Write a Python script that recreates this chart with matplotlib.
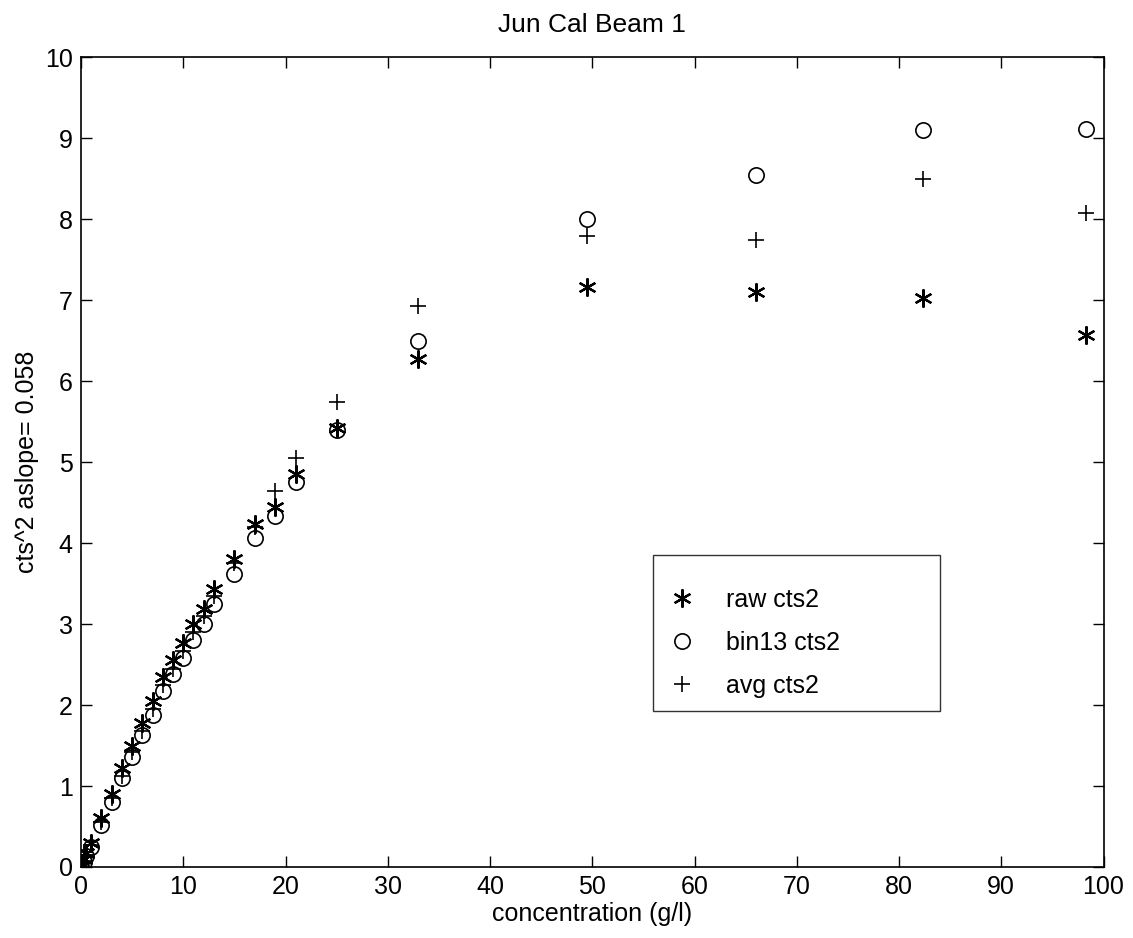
import numpy as np
import matplotlib
matplotlib.use('Agg')
from matplotlib import pyplot as plt

plt.rcParams['font.family'] = ['Liberation Sans', 'DejaVu Sans']

conc = [0, 0.25, 0.5, 1, 2, 3, 4, 5, 6, 7, 8, 9, 10, 11, 12, 13,
        15, 17, 19, 21, 25, 33, 49.5, 66, 82.3, 98.3]
raw_cts2 = [0.0, 0.1, 0.17, 0.3, 0.6, 0.9, 1.22, 1.5, 1.78, 2.05, 2.35, 2.56, 2.77, 3.0,
            3.19, 3.43, 3.8, 4.24, 4.45, 4.86, 5.42, 6.28, 7.17, 7.1, 7.03, 6.57]
bin13_cts2 = [0.0, 0.06, 0.14, 0.25, 0.52, 0.8, 1.1, 1.36, 1.63, 1.88, 2.18, 2.38, 2.58, 2.81,
              3.0, 3.25, 3.62, 4.07, 4.33, 4.75, 5.40, 6.5, 8.0, 8.55, 9.1, 9.12]
avg_cts2 = [0.0, 0.08, 0.15, 0.27, 0.55, 0.85, 1.13, 1.42, 1.68, 1.95, 2.25, 2.45, 2.67, 2.9,
            3.1, 3.35, 3.75, 4.2, 4.64, 5.05, 5.75, 6.93, 7.8, 7.75, 8.5, 8.08]
labels = ['raw cts2', 'bin13 cts2', 'avg cts2']

fig = plt.figure(figsize=(11.33, 9.38), dpi=100)
ax = fig.add_axes([0.0715, 0.0757, 0.9025, 0.863])

ax.plot(conc, raw_cts2, linestyle='none', marker=(6, 2, 0), markersize=13,
        markeredgecolor='k', markeredgewidth=1.6, color='k', label=labels[0])
ax.plot(conc, bin13_cts2, linestyle='none', marker='o', markersize=11,
        markerfacecolor='none', markeredgecolor='k', markeredgewidth=1.2, label=labels[1])
ax.plot(conc, avg_cts2, linestyle='none', marker='+', markersize=12,
        markeredgecolor='k', markeredgewidth=1.2, label=labels[2])

ax.set_xlim(0, 100)
ax.set_ylim(0, 10)
ax.set_xticks(np.arange(0, 101, 10))
ax.set_yticks(np.arange(0, 11, 1))
ax.tick_params(direction='in', length=8, width=1, top=True, right=True,
               labelsize=18, pad=6)
for s in ax.spines.values():
    s.set_linewidth(1.2)

ax.set_title('Jun Cal Beam 1', fontsize=19, pad=18)
ax.set_xlabel('concentration (g/l)', fontsize=18, labelpad=2)
ax.set_ylabel('cts^2 aslope= 0.058', fontsize=18, labelpad=4)

# matlab-style legend: extra room above the first entry (tiny blank title)
leg = ax.legend(loc='upper left', bbox_to_anchor=(0.559, 0.185, 0.281, 0.2),
                mode='expand', borderaxespad=0, frameon=True, fancybox=False,
                edgecolor='k', fontsize=18, handletextpad=1.1, borderpad=0.52,
                labelspacing=0.75, handlelength=1.3, title=' ', title_fontsize=1)
leg.get_frame().set_linewidth(1.0)

fig.savefig('out.png', dpi=100)
